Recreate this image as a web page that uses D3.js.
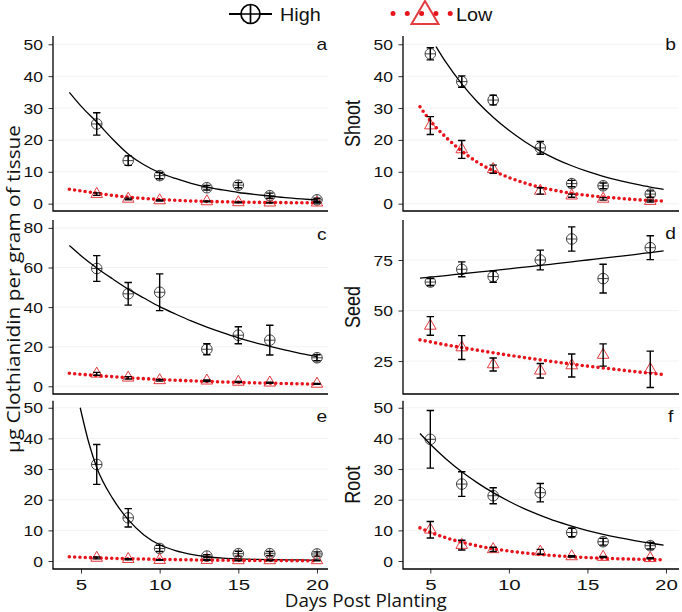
<!DOCTYPE html>
<html><head><meta charset="utf-8">
<script src="https://cdn.jsdelivr.net/npm/d3@7"></script>
<style>body{margin:0;background:#fff}</style>
</head><body><svg id="chart" width="682" height="612"></svg>
<script>
// ---------- data ----------
const daysLeft = [6, 8, 10, 13, 15, 17, 20];
const daysRight = [5, 7, 9, 12, 14, 16, 19];
const fitXLeft = [4.26, 5, 6, 7, 8, 9, 10, 11, 12, 13, 14, 15, 16, 17, 18, 19, 20];
const fitXRight = [4.34, 5, 6, 7, 8, 9, 10, 11, 12, 13, 14, 15, 16, 17, 18, 19, 19.85];
const xTicks = [5, 10, 15, 20];
const ticks50 = [0, 10, 20, 30, 40, 50];
const ticks80 = [0, 20, 40, 60, 80];
const ticksSeed = [25, 50, 75];
const rowLabels = ["Shoot", "Seed", "Root"];
const seriesNames = ["High", "Low"];

// panel a
const aHigh = [25, 13.5, 8.8, 5.0, 5.8, 2.5, 1.2];
const aHighErr = [3.5, 1.5, 1.0, 0.7, 0.8, 0.8, 0.5];
const aLow = [3.0, 1.5, 1.0, 0.7, 0.4, 0.3, 0.3];
const aLowErr = [0.4, 0.25, 0.2, 0.15, 0.1, 0.1, 0.1];
const aHighFit = [34.9, 30.6, 25.6, 20.3, 15.6, 12.2, 9.7, 7.9, 6.4, 5.2, 4.3, 3.5, 2.9, 2.4, 1.9, 1.5, 1.15];
const aLowFit = [4.5, 4.0, 3.3, 2.6, 2.05, 1.65, 1.3, 1.05, 0.85, 0.7, 0.6, 0.5, 0.42, 0.36, 0.32, 0.29, 0.26];
// panel b
const bHigh = [47, 38.3, 32.5, 17.5, 6.3, 5.6, 3.0];
const bHighErr = [1.9, 1.8, 1.5, 2.0, 1.0, 0.9, 1.0];
const bLow = [24.5, 17, 10.8, 4.0, 2.5, 1.5, 0.8];
const bLowErr = [2.8, 2.8, 1.3, 1.0, 0.5, 0.4, 0.3];
const bHighFitX = [5.36, 6, 7, 8, 9, 10, 11, 12, 13, 14, 15, 16, 17, 18, 19, 19.85];
const bHighFit = [49.3, 44.3, 37.6, 31.9, 27.1, 23.0, 19.5, 16.5, 14.0, 11.9, 10.1, 8.6, 7.3, 6.2, 5.2, 4.5];
const bLowFit = [30.4, 26.0, 20.8, 16.5, 13.0, 10.3, 8.2, 6.5, 5.1, 4.1, 3.2, 2.6, 2.1, 1.7, 1.3, 1.0, 0.8];
// panel c
const cHigh = [59.5, 46.7, 47.5, 18.7, 25.8, 23.3, 14.4];
const cHighErr = [6.5, 5.7, 9.3, 2.8, 4.3, 7.5, 1.5];
const cLow = [6.3, 4.3, 3.0, 2.8, 2.2, 1.8, 1.2];
const cLowErr = [0.7, 0.6, 0.4, 0.4, 0.3, 0.3, 0.2];
const cHighFit = [71.1, 66.0, 59.8, 54.3, 49.1, 44.6, 40.2, 36.5, 33.0, 29.9, 27.1, 24.5, 22.2, 20.2, 18.3, 16.5, 15.0];
const cLowFit = [6.6, 6.05, 5.4, 4.85, 4.3, 3.85, 3.43, 3.07, 2.74, 2.45, 2.19, 1.95, 1.74, 1.56, 1.39, 1.24, 1.1];
// panel d
const dHigh = [64.1, 70.4, 66.8, 75.0, 85.4, 65.8, 81.1];
const dHighErr = [1.7, 3.7, 2.8, 4.9, 6.0, 7.1, 5.9];
const dLow = [42.4, 31.7, 23.3, 20.2, 22.8, 28.0, 20.9];
const dLowErr = [4.6, 5.9, 3.2, 3.6, 5.7, 5.5, 9.0];
const dHighFit = [66.0, 66.5, 67.3, 68.2, 69.0, 69.8, 70.6, 71.5, 72.3, 73.2, 74.1, 75.0, 75.9, 76.8, 77.7, 78.7, 79.5];
const dLowFit = [35.5, 34.5, 33.0, 31.7, 30.4, 29.1, 27.9, 26.7, 25.6, 24.5, 23.5, 22.5, 21.6, 20.7, 19.8, 19.0, 18.3];
// panel e
const eHigh = [31.5, 14.1, 4.1, 1.6, 2.4, 2.4, 2.3];
const eHighErr = [6.5, 3.0, 1.0, 0.5, 0.8, 0.7, 0.7];
const eLow = [1.0, 0.6, 0.3, 0.3, 0.2, 0.2, 0.2];
const eLowErr = [0.3, 0.2, 0.1, 0.1, 0.1, 0.1, 0.1];
const eHighFitX = [4.95, 5.5, 6, 7, 8, 9, 10, 11, 12, 13, 14, 15, 16, 17, 18, 19, 20];
const eHighFit = [50, 38.5, 30.5, 20.5, 13.5, 8.5, 5.3, 3.4, 2.2, 1.4, 0.95, 0.7, 0.55, 0.45, 0.4, 0.35, 0.3];
const eLowFit = [1.4, 1.23, 1.04, 0.89, 0.75, 0.64, 0.54, 0.46, 0.38, 0.32, 0.27, 0.23, 0.2, 0.17, 0.14, 0.12, 0.1];
// panel f
const fHigh = [39.7, 25.1, 21.3, 22.3, 9.3, 6.3, 5.0];
const fHighErr = [9.4, 4.0, 2.6, 3.0, 1.4, 1.1, 1.1];
const fLow = [10.2, 5.2, 3.8, 3.0, 1.5, 1.3, 0.9];
const fLowErr = [2.7, 1.6, 0.7, 0.8, 0.2, 0.2, 0.2];
const fHighFit = [41.6, 38.1, 33.3, 29.1, 25.5, 22.3, 19.5, 17.0, 14.9, 13.0, 11.4, 9.95, 8.7, 7.6, 6.65, 5.8, 5.2];
const fLowFit = [10.8, 9.36, 7.58, 6.14, 4.97, 4.02, 3.26, 2.64, 2.13, 1.73, 1.40, 1.13, 0.92, 0.74, 0.60, 0.49, 0.40];

// ---------- layout ----------
const RED = "#e8141c", TRI = "#e33b40";
const colL = {x0: 53, x1: 328, dom: [3.22, 20.7]};
const colR = {x0: 403, x1: 679, dom: [3.26, 20.83]};
const rows = [{y0: 36, y1: 211}, {y0: 220, y1: 394}, {y0: 400.7, y1: 569}];

const panels = [
  {id: "a", col: colL, row: 0, yd: [-2.3, 52.6], ticks: ticks50, days: daysLeft, hi: aHigh, hiE: aHighErr, lo: aLow, loE: aLowErr,
   hiFit: d3.zip(fitXLeft, aHighFit), loFit: d3.zip(fitXLeft, aLowFit), labY: 50},
  {id: "b", col: colR, row: 0, yd: [-2.3, 52.6], ticks: ticks50, days: daysRight, hi: bHigh, hiE: bHighErr, lo: bLow, loE: bLowErr,
   hiFit: d3.zip(bHighFitX, bHighFit), loFit: d3.zip(fitXRight, bLowFit), labY: 50, side: rowLabels[0]},
  {id: "c", col: colL, row: 1, yd: [-3.9, 84], ticks: ticks80, days: daysLeft, hi: cHigh, hiE: cHighErr, lo: cLow, loE: cLowErr,
   hiFit: d3.zip(fitXLeft, cHighFit), loFit: d3.zip(fitXLeft, cLowFit), labY: 76.5},
  {id: "d", col: colR, row: 1, yd: [8.7, 94.8], ticks: ticksSeed, days: daysRight, hi: dHigh, hiE: dHighErr, lo: dLow, loE: dLowErr,
   hiFit: d3.zip(fitXRight, dHighFit), loFit: d3.zip(fitXRight, dLowFit), labY: 88, side: rowLabels[1]},
  {id: "e", col: colL, row: 2, yd: [-2.6, 52.3], ticks: ticks50, days: daysLeft, hi: eHigh, hiE: eHighErr, lo: eLow, loE: eLowErr,
   hiFit: d3.zip(eHighFitX, eHighFit), loFit: d3.zip(fitXLeft, eLowFit), labY: 47, xaxis: true},
  {id: "f", col: colR, row: 2, yd: [-2.6, 52.3], ticks: ticks50, days: daysRight, hi: fHigh, hiE: fHighErr, lo: fLow, loE: fLowErr,
   hiFit: d3.zip(fitXRight, fHighFit), loFit: d3.zip(fitXRight, fLowFit), labY: 47, xaxis: true, side: rowLabels[2]},
];

const svg = d3.select("#chart");
const defs = svg.append("defs");
const triPath = "M0,-6.7L5.8,3.3L-5.8,3.3Z";

panels.forEach(p => {
  const r = rows[p.row];
  const x = d3.scaleLinear().domain(p.col.dom).range([p.col.x0, p.col.x1]);
  const y = d3.scaleLinear().domain(p.yd).range([r.y1, r.y0]);
  const g = svg.append("g");
  defs.append("clipPath").attr("id", "clip-" + p.id).append("rect")
    .attr("x", p.col.x0).attr("y", r.y0).attr("width", p.col.x1 - p.col.x0).attr("height", r.y1 - r.y0);

  // grid
  g.selectAll("line.grid").data(p.ticks).join("line")
    .attr("x1", p.col.x0).attr("x2", p.col.x1).attr("y1", d => y(d)).attr("y2", d => y(d))
    .attr("stroke", "#efefef").attr("stroke-width", 0.8);

  // y axis
  const yAxis = g.append("g").attr("transform", `translate(${p.col.x0},0)`)
    .call(d3.axisLeft(y).tickValues(p.ticks).tickSize(4.5).tickPadding(5).tickSizeOuter(0));
  yAxis.select(".domain").remove();
  yAxis.selectAll(".tick line").attr("stroke", "#333").attr("stroke-width", 1);
  yAxis.selectAll(".tick text").attr("font-family", "Liberation Sans, Arial, sans-serif").attr("font-size", 14)
    .attr("fill", "#111").attr("x", null).attr("dy", null)
    .attr("transform", "translate(-10,5) scale(1.25,1)");

  // x axis
  if (p.xaxis) {
    const xAxis = g.append("g").attr("transform", `translate(0,${r.y1})`)
      .call(d3.axisBottom(x).tickValues(xTicks).tickSize(4.5).tickSizeOuter(0));
    xAxis.select(".domain").remove();
    xAxis.selectAll(".tick line").attr("stroke", "#333").attr("stroke-width", 1);
    xAxis.selectAll(".tick text").attr("font-family", "Liberation Sans, Arial, sans-serif").attr("font-size", 15.5)
      .attr("fill", "#111").attr("y", null).attr("dy", null)
      .attr("transform", "translate(0,20.5) scale(1.32,1)");
  }
  // axis lines
  g.append("path").attr("d", `M${p.col.x0},${r.y0}V${r.y1}H${p.col.x1}`)
    .attr("fill", "none").attr("stroke", "#000").attr("stroke-width", 1.3);

  const plot = g.append("g").attr("clip-path", `url(#clip-${p.id})`);
  const line = d3.line().x(d => x(d[0])).y(d => y(d[1])).curve(d3.curveMonotoneX);

  // points: High (circle plus) and Low (triangle)
  p.days.forEach((dd, i) => {
    const cx = x(dd), cy = y(p.hi[i]);
    plot.append("circle").attr("cx", cx).attr("cy", cy).attr("r", 5.3)
      .attr("fill", "none").attr("stroke", "#444").attr("stroke-width", 1);
    plot.append("path").attr("d", `M${cx - 5.3},${cy}H${cx + 5.3}M${cx},${cy - 5.3}V${cy + 5.3}`)
      .attr("stroke", "#444").attr("stroke-width", 1);
    plot.append("path").attr("d", triPath).attr("transform", `translate(${cx},${y(p.lo[i])})`)
      .attr("fill", "none").attr("stroke", TRI).attr("stroke-width", 1);
  });

  // fitted lines
  plot.append("path").datum(p.hiFit).attr("d", line)
    .attr("fill", "none").attr("stroke", "#000").attr("stroke-width", 1.3);
  plot.append("path").datum(p.loFit).attr("d", line)
    .attr("fill", "none").attr("stroke", RED).attr("stroke-width", 3.6)
    .attr("stroke-linecap", "round").attr("stroke-dasharray", "0 5.3");

  // error bars
  const eb = (vals, errs) => p.days.forEach((dd, i) => {
    const cx = x(dd), t = y(vals[i] + errs[i]), b = y(vals[i] - errs[i]);
    plot.append("path").attr("d", `M${cx - 3.7},${t}H${cx + 3.7}M${cx},${t}V${b}M${cx - 3.7},${b}H${cx + 3.7}`)
      .attr("fill", "none").attr("stroke", "#000").attr("stroke-width", 1.4);
  });
  eb(p.hi, p.hiE);
  eb(p.lo, p.loE);

  // panel letter
  g.append("text").attr("transform", `translate(${x(20.3)},${y(p.labY) + 5.5}) scale(1.2,1)`)
    .attr("text-anchor", "middle").attr("font-family", "Liberation Sans, Arial, sans-serif")
    .attr("font-size", 16).attr("fill", "#111").text(p.id);

  // side label
  if (p.side) {
    g.append("text").attr("transform", `translate(360,${(r.y0 + r.y1) / 2}) scale(1.2,1) rotate(-90)`)
      .attr("text-anchor", "middle").attr("font-family", "Liberation Sans, Arial, sans-serif")
      .attr("font-size", 18).attr("fill", "#111").text(p.side);
  }
});

// axis titles
svg.append("text").attr("transform", "translate(20,289) scale(1.04,1) rotate(-90)")
  .attr("text-anchor", "middle").attr("font-family", "Open Sans, sans-serif").attr("font-size", 18)
  .attr("textLength", 328).attr("lengthAdjust", "spacingAndGlyphs").attr("fill", "#111")
  .text("µg Clothianidin per gram of tissue");
svg.append("text").attr("x", 365.8).attr("y", 607)
  .attr("text-anchor", "middle").attr("font-family", "Open Sans, sans-serif").attr("font-size", 18.5)
  .attr("textLength", 162).attr("lengthAdjust", "spacingAndGlyphs").attr("fill", "#111")
  .text("Days Post Planting");

// legend
const lg = svg.append("g");
lg.append("line").attr("x1", 229).attr("x2", 272).attr("y1", 14).attr("y2", 14).attr("stroke", "#000").attr("stroke-width", 2);
lg.append("circle").attr("cx", 250.5).attr("cy", 14).attr("r", 9.5).attr("fill", "#fff").attr("stroke", "#000").attr("stroke-width", 1.7);
lg.append("path").attr("d", "M241,14H260M250.5,4.5V23.5").attr("stroke", "#000").attr("stroke-width", 1.7);
lg.append("text").attr("transform", "translate(280,20.5) scale(1.1,1)").attr("font-family", "Liberation Sans, Arial, sans-serif")
  .attr("font-size", 18).attr("fill", "#111").text(seriesNames[0]);
lg.append("line").attr("x1", 393).attr("x2", 451).attr("y1", 13.5).attr("y2", 13.5).attr("stroke", RED)
  .attr("stroke-width", 5).attr("stroke-linecap", "round").attr("stroke-dasharray", "0 14.3");
lg.append("path").attr("d", "M425,1L438.5,24H411.5Z").attr("fill", "none").attr("stroke", TRI).attr("stroke-width", 2);
lg.append("text").attr("transform", "translate(456,21) scale(1.1,1)").attr("font-family", "Liberation Sans, Arial, sans-serif")
  .attr("font-size", 18).attr("fill", "#111").text(seriesNames[1]);
</script></body></html>
